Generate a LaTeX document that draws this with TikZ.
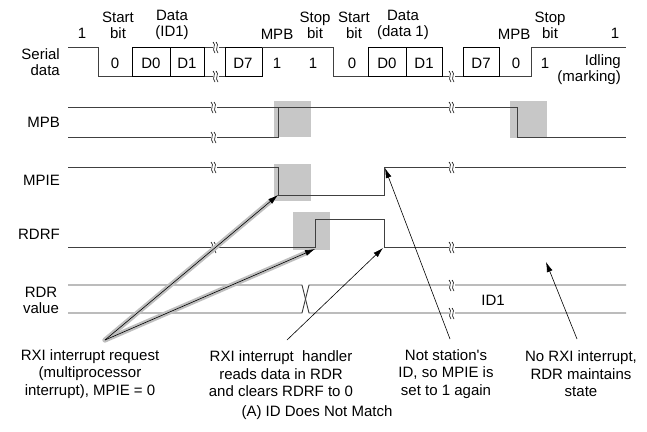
\documentclass[tikz,border=0pt]{standalone}
\usepackage{fontspec}
\setmainfont{Liberation Sans}
\usetikzlibrary{arrows.meta}
\newcommand{\breakmark}[2]{ % Takes x coord, y coord of the break on a signal line
    \begin{scope}[shift={(#1,#2)}]
        \fill[white] (-3,-4) rectangle (3,4);
        \draw[line width=0.6pt] (-3,-5) .. controls (1,-2) and (-5,2) .. (-1,6);
        \draw[line width=0.6pt] (0,-5) .. controls (4,-2) and (-2,2) .. (2,6);
    \end{scope}
}

\begin{document}
\begin{tikzpicture}[x=1pt, y=-1pt,
        every node/.style={font=\fontsize{15}{16}\selectfont, inner sep=0pt},
        sig/.style={draw=black!75, line width=0.9pt},
        bitbox/.style={draw=black, line width=0.9pt},
        shade/.style={fill=black!22},
        note/.style={align=center, font=\fontsize{15}{17.5}\selectfont},
        arr/.style={-{Latex[length=10pt,width=6pt]}, line width=0.6pt},
        halo/.style={draw=black!25, line width=5pt, line cap=round, shorten >=8pt}]
    \useasboundingbox (0,0) rectangle (647,431);

    % Highlights
    \fill[shade] (274,101) rectangle (311,137);
    \fill[shade] (510,101) rectangle (547,138);
    \fill[shade] (274,164) rectangle (311,201);
    \fill[shade] (293,212) rectangle (330,250);

    % Row labels
    \node[anchor=east, align=right] (lblSerial) at (60,62) {Serial\\data};
    \node[anchor=east] (lblMPB) at (60,122) {MPB};
    \node[anchor=east] (lblMPIE) at (60,180) {MPIE};
    \node[anchor=east] (lblRDRF) at (60,234) {RDRF};
    \node[align=center] (lblRDR) at (41,300) {RDR\\value};

    % Serial data
    \draw[sig] (68,47) -- (98,47) -- (98,76) -- (262,76);
    \draw[sig] (204,47) -- (225,47);
    \draw[bitbox] (132,47) rectangle (170,76) (170,47) rectangle (204,76) (225,47) rectangle (262,76);
    \draw[sig] (262,47) -- (333,47) -- (333,76) -- (531,76) -- (531,47) -- (626,47);
    \draw[bitbox] (368,47) rectangle (406,76) (406,47) rectangle (442,76) (463,47) rectangle (499,76);
    \breakmark{216}{47}
    \breakmark{216}{76}
    \breakmark{452}{76}

    % Bit names
    \node (idleA) at (82,33) {1};
    \node[align=center] (startA) at (118,25) {Start\\bit};
    \node[align=center] (dataA) at (172,25) {Data\\(ID1)};
    \node (mpbA) at (277,34) {MPB};
    \node[align=center] (stopA) at (315,25) {Stop\\bit};
    \node[align=center] (startB) at (354,25) {Start\\bit};
    \node[align=center] (dataB) at (403,25) {Data\\(data 1)};
    \node (mpbB) at (514,34) {MPB};
    \node[align=center] (stopB) at (550,25) {Stop\\bit};
    \node (idleB) at (615,33) {1};

    % Bit values
    \node (bitA0) at (115,63) {0};
    \node (bitA1) at (151,63) {D0};
    \node (bitA2) at (187,63) {D1};
    \node (bitA3) at (243,63) {D7};
    \node (bitA4) at (277,63) {1};
    \node (bitA5) at (313,63) {1};
    \node (bitB0) at (352,63) {0};
    \node (bitB1) at (387,63) {D0};
    \node (bitB2) at (424,63) {D1};
    \node (bitB3) at (481,63) {D7};
    \node (bitB4) at (516,63) {0};
    \node (bitB5) at (545,63) {1};
    \node[anchor=east, align=right] (idling) at (621,70) {Idling\\(marking)};

    % MPB
    \draw[sig] (68,107) -- (517,107) -- (517,137) -- (626,137);
    \draw[sig] (68,137) -- (278,137) -- (278,107);
    \breakmark{214}{107}
    \breakmark{214}{137}
    \breakmark{452}{107}

    % MPIE
    \draw[sig] (68,167) -- (278,167) -- (278,195) -- (384,195) -- (384,167) -- (626,167);
    \breakmark{214}{167}
    \breakmark{452}{167}

    % RDRF
    \draw[sig] (68,247) -- (315,247) -- (315,219) -- (384,219) -- (384,247) -- (626,247);
    \breakmark{214}{247}
    \breakmark{452}{247}

    % RDR value
    \draw[sig] (68,285) -- (302,285) -- (309,313) -- (626,313);
    \draw[sig] (68,313) -- (302,313) -- (309,285) -- (626,285);
    \breakmark{452}{285}
    \breakmark{452}{313}
    \node (rdrID) at (493,300) {ID1};

    % Notes
    \node[note] (noteReq) at (90,374) {RXI interrupt request\\(multiprocessor\\interrupt), MPIE = 0};
    \node[note] (noteHdl) at (281,374) {RXI interrupt\ \ handler\\reads data in RDR\\and clears RDRF to 0};
    \node[note] (noteID) at (446,374) {Not station\textquotesingle s\\ID, so MPIE is\\set to 1 again};
    \node[note] (noteNo) at (581,374) {No RXI interrupt,\\RDR maintains\\state};
    \node (caption) at (317,413) {(A) ID Does Not Match};

    % Arrows
    \coordinate (reqTail) at (105,340);
    \coordinate (hdlTail) at (287,340);
    \coordinate (idTail) at (450,339);
    \coordinate (noTail) at (577,339);
    \coordinate (mpieFall) at (278,195);
    \coordinate (mpieRise) at (385,168);
    \coordinate (rdrfRise) at (315,249);
    \coordinate (rdrfFall) at (383,248);
    \coordinate (rdrfIdle) at (546,262);
    \draw[halo] (reqTail) -- (mpieFall);
    \draw[halo] (reqTail) -- (rdrfRise);
    \draw[arr] (reqTail) -- (mpieFall);
    \draw[arr] (reqTail) -- (rdrfRise);
    \draw[arr] (hdlTail) -- (rdrfFall);
    \draw[arr] (idTail) -- (mpieRise);
    \draw[arr] (noTail) -- (rdrfIdle);
\end{tikzpicture}
\end{document}
